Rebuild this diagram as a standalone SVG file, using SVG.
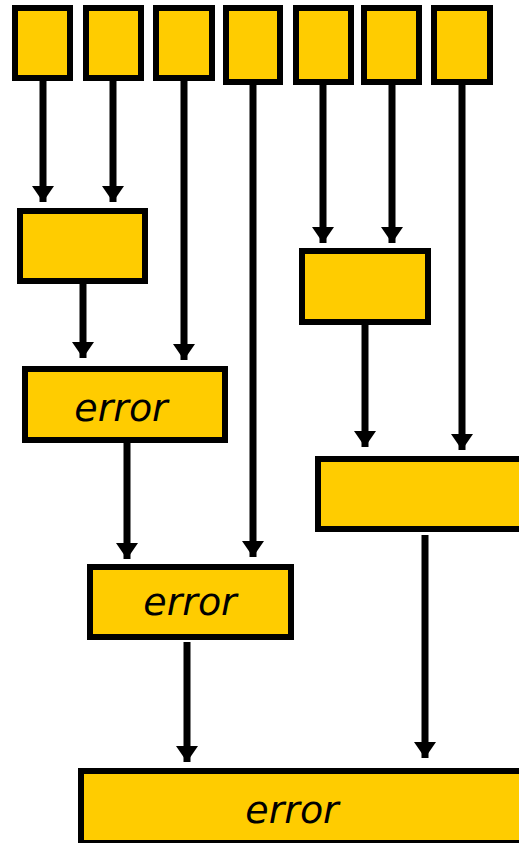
<svg xmlns="http://www.w3.org/2000/svg" width="519" height="843" viewBox="0 0 519 843">
<style>
.n{fill:#FFCC00;stroke:#000;stroke-width:6}
.c{stroke:#000;stroke-width:7;fill:none;marker-end:url(#ah)}
.t{font-family:"DejaVu Sans",Verdana,sans-serif;font-style:italic;font-size:38px;fill:#000;text-anchor:middle}
</style>
<defs>
<marker id="ah" markerUnits="userSpaceOnUse" markerWidth="17" markerHeight="22" viewBox="0 0 17 22" refX="16" refY="11" orient="auto">
<path d="M0,0 L16,11 L0,22 z" fill="#000"/>
</marker>
</defs>
<rect width="519" height="843" fill="#fff"/>
<g id="connectors">
<line class="c" x1="43" y1="81" x2="43" y2="202"/>
<line class="c" x1="113" y1="81" x2="113" y2="202"/>
<line class="c" x1="184" y1="81" x2="184" y2="360"/>
<line class="c" x1="253" y1="85" x2="253" y2="557"/>
<line class="c" x1="323" y1="85" x2="323" y2="243"/>
<line class="c" x1="392" y1="85" x2="392" y2="243"/>
<line class="c" x1="462" y1="85" x2="462" y2="450"/>
<line class="c" x1="83" y1="284" x2="83" y2="358"/>
<line class="c" x1="127" y1="443" x2="127" y2="559"/>
<line class="c" x1="365" y1="325" x2="365" y2="447"/>
<line class="c" x1="187" y1="642" x2="187" y2="762"/>
<line class="c" x1="425" y1="535" x2="425" y2="758"/>
</g>
<g id="in1"><rect class="n" x="15" y="8" width="55" height="70"/></g>
<g id="in2"><rect class="n" x="86" y="8" width="55" height="70"/></g>
<g id="in3"><rect class="n" x="156" y="8" width="56" height="70"/></g>
<g id="in4"><rect class="n" x="226" y="8" width="54" height="74"/></g>
<g id="in5"><rect class="n" x="296" y="8" width="55" height="74"/></g>
<g id="in6"><rect class="n" x="364" y="8" width="55" height="74"/></g>
<g id="in7"><rect class="n" x="434" y="8" width="56" height="74"/></g>
<g id="boxA"><rect class="n" x="20" y="211" width="125" height="70"/></g>
<g id="boxB"><rect class="n" x="302" y="251" width="126" height="71"/></g>
<g id="error1"><rect class="n" x="25" y="369" width="200" height="71"/><text class="t" x="121" y="421">error</text></g>
<g id="boxC"><rect class="n" x="318" y="459" width="210" height="70"/></g>
<g id="error2"><rect class="n" x="90" y="567" width="201" height="70"/><text class="t" x="190" y="615">error</text></g>
<g id="error3"><rect class="n" x="81" y="771" width="450" height="72"/><text class="t" x="292" y="823">error</text></g>
</svg>
